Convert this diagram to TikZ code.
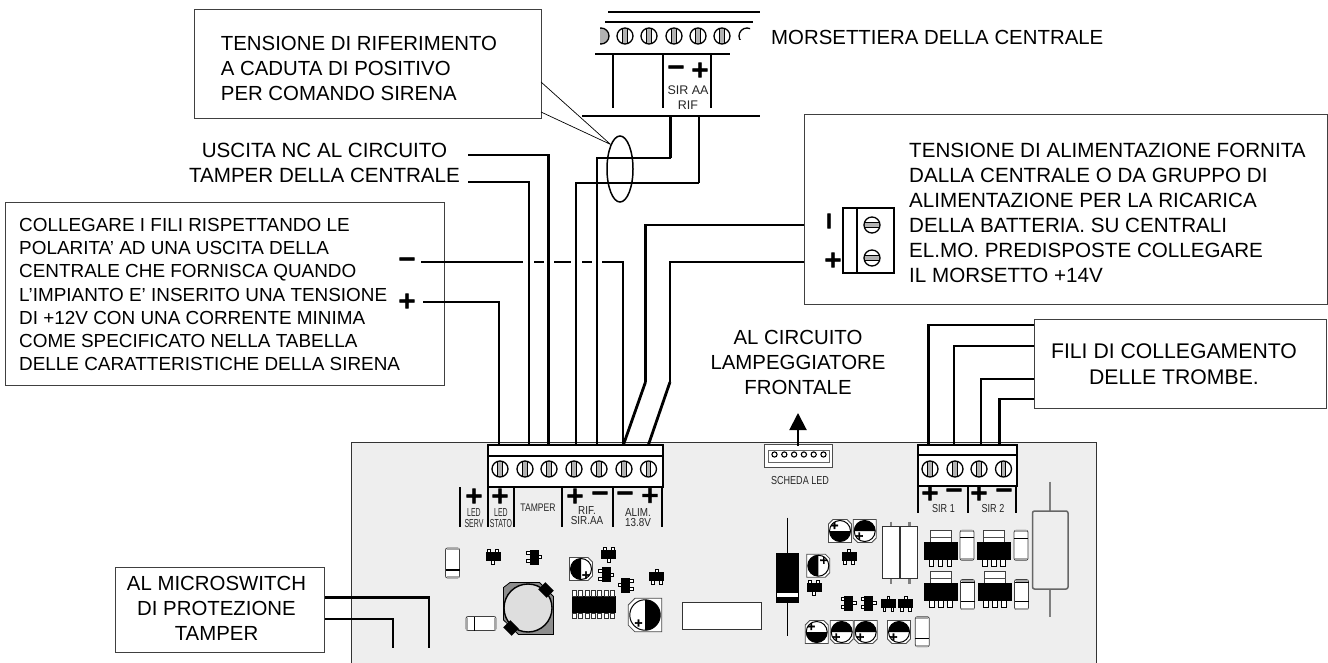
\documentclass[tikz,border=0pt]{standalone}
\usepackage{fontspec}
\setmainfont{Liberation Sans}
\newfontfamily\signfont[FakeBold=3]{DejaVu Sans}
\newfontfamily\narrowfont[FakeStretch=0.78]{Liberation Sans}
\newfontfamily\tightfont[FakeStretch=0.6]{Liberation Sans}
\newfontfamily\slimfont[FakeStretch=0.85]{Liberation Sans}
\usetikzlibrary{arrows.meta,shapes.geometric}

\begin{document}
\begin{tikzpicture}[x=1pt,y=-1pt,node distance=15pt,
	wire line/.style={line width=2.8pt},
	hv/.style={to path={-| (\tikztotarget)}},
	vh/.style={to path={|- (\tikztotarget)}},
	note box/.style={draw=black!75,line width=1pt,fill=white,inner sep=0pt},
	note text/.style={font=\fontsize{20.4}{25}\selectfont,align=left,anchor=west,inner sep=0pt},
	centre text/.style={font=\fontsize{20.4}{25}\selectfont,align=center,inner sep=0pt},
	small text/.style={font=\fontsize{18.9}{23.3}\selectfont,align=left,anchor=west,inner sep=0pt},
	pcb text/.style={font=\narrowfont\fontsize{11.6}{11.6}\selectfont,text=black!85,inner sep=0pt},
	tight text/.style={pcb text,font=\tightfont\fontsize{11.6}{11.6}\selectfont},
	slim text/.style={pcb text,font=\slimfont\fontsize{11.6}{11.6}\selectfont},
	pin sign/.style={font=\signfont\bfseries\fontsize{23}{23}\selectfont,inner sep=0pt},
	cap sign/.style={font=\signfont\bfseries\fontsize{11}{11}\selectfont,inner sep=0pt},
	block/.style={draw,line width=2pt,fill=white},
	mark line/.style={line width=1.6pt},
	pics/screw/.style={code={
		\draw[line width=1.3pt,fill=white] (0,0) circle (8);
		\fill[black!30] (-2,-7) rectangle (2,7);
		\draw[line width=1.1pt] (-2.2,-7.5) -- (-2.2,7.5) (2.2,-7.5) -- (2.2,7.5);
	}},
	pics/elcap/.style n args={3}{code={
		\begin{scope}[rotate=-#1]
			\draw[line width=.8pt,fill=white,draw=black!70] (11.5,-11.5) -- (11.5,11.5) -- (-7,11.5) -- (-11.5,7) -- (-11.5,-7) -- (-7,-11.5) -- cycle;
			\draw[line width=1pt] (0,0) circle (10.5);
			\fill (0,-10.5) arc[start angle=-90,delta angle=180,radius=10.5] -- cycle;
		\end{scope}
		\node[cap sign] (plus) at (#2,#3) {+};
	}},
	pics/sot/.style={code={
		\foreach \l in {-4,4} \draw[fill=white,line width=.6pt] (\l-1.4,-7.5) rectangle (\l+1.4,-3);
		\draw[fill=white,line width=.6pt] (-1.4,3) rectangle (1.4,7.5);
		\fill (-7.5,-4.5) rectangle (7.5,4.5);
	}},
	pics/diode/.style={code={
		\draw[fill=white,rounded corners=2pt,line width=.8pt,draw=black!75] (-7,-15) rectangle (7,15);
		\fill[black!35] (-6,-15) rectangle (6,-13);
		\fill[black!35] (-6,13) rectangle (6,15);
		\foreach \b in {#1} \draw[line width=1.3pt] (-7,\b) -- (7,\b);
	}},
	pics/regulator/.style={code={
		\draw[fill=white,line width=.8pt,draw=black!75] (-10.5,-11.5) rectangle (10.5,0);
		\draw[line width=.6pt,black!70] (-10.5,-5.5) -- (10.5,-5.5);
		\foreach \l in {-9,0,9} \draw[fill=white,line width=.7pt] (\l-2.2,17) rectangle (\l+2.2,24);
		\fill (-17,0) rectangle (17,18);
	}},
	pics/stick/.style={code={
		\draw[line width=2.4pt,black!50] (0,-31) -- (0,31);
		\draw[fill=white,line width=.8pt,draw=black!80] (-8.5,-26) rectangle (8.5,26);
	}}
	]

	\useasboundingbox (0,0) rectangle (1328,663);
	\draw[fill=black!6.5,line width=.9pt,draw=black!80] (351,442) rectangle (1096,668);

	\node[note box,minimum width=439pt,minimum height=183pt] (box fili) at (224.5,294) {};
	\node[small text] (text fili) at (19,294.5) {COLLEGARE I FILI RISPETTANDO LE\\POLARITA' AD UNA USCITA DELLA\\CENTRALE CHE FORNISCA QUANDO\\L'IMPIANTO E' INSERITO UNA TENSIONE\\DI +12V CON UNA CORRENTE MINIMA\\COME SPECIFICATO NELLA TABELLA\\DELLE CARATTERISTICHE DELLA SIRENA};
	\node[pin sign] (fili minus) at (407,262) {−};
	\node[pin sign] (fili plus) at (407,301) {+};

	\coordinate (nc a) at (468,155);
	\coordinate (nc b) at (468,182);
	\coordinate (neg end) at (421,262);
	\coordinate (pos end) at (423,302);
	\coordinate (pin plus) at (499,446);
	\coordinate (pin tamper b) at (529,446);
	\coordinate (pin tamper a) at (548.5,446);
	\coordinate (pin rif plus) at (576,446);
	\coordinate (pin rif minus) at (597,446);
	\coordinate (pin alim minus) at (623,446);
	\coordinate (pin alim plus) at (648,446);
	\coordinate (bus a) at (582,116);
	\coordinate (bus b) at (760,116);
	\coordinate (bus minus) at (670.5,116);
	\coordinate (bus plus) at (699,116);
	\coordinate (corner minus) at (670.5,158);
	\coordinate (corner plus) at (699,183);
	\coordinate (term minus) at (826,225);
	\coordinate (term plus) at (816,262);
	\coordinate (bend minus) at (645.5,382);
	\coordinate (bend plus) at (670,382);
	\coordinate (fili a) at (1034,325);
	\coordinate (fili b) at (1034,346);
	\coordinate (fili c) at (1034,379);
	\coordinate (fili d) at (1034,399);
	\coordinate (pin sir a) at (928.5,446);
	\coordinate (pin sir b) at (954,446);
	\coordinate (pin sir c) at (981,446);
	\coordinate (pin sir d) at (999.5,446);
	\coordinate (micro a) at (324,597.7);
	\coordinate (micro b) at (324,619);
	\coordinate (micro a end) at (429,648);
	\coordinate (micro b end) at (393,648);

	\path[wire line]
	(nc a) edge[hv] (pin tamper a)
	(nc b) edge[hv] (pin tamper b)
	(pos end) edge[hv] (pin plus)
	(pin rif plus) edge[vh] (corner plus)
	(pin rif minus) edge[vh] (corner minus)
	(corner plus) edge (bus plus)
	(corner minus) edge (bus minus)
	(bus a) edge (bus b)
	(term minus) edge[hv] (bend minus)
	(term plus) edge[hv] (bend plus)
	(bend minus) edge (pin alim minus)
	(bend plus) edge (pin alim plus)
	(pin sir a) edge[vh] (fili a)
	(pin sir b) edge[vh] (fili b)
	(pin sir c) edge[vh] (fili c)
	(pin sir d) edge[vh] (fili d)
	(micro a) edge[hv] (micro a end)
	(micro b) edge[hv] (micro b end);
	\draw[wire line,dash pattern=on 102pt off 11pt on 10pt off 10pt on 17pt off 11pt on 10pt off 10pt on 400pt] (neg end) -| (pin alim minus);

	\node[note box,minimum width=347pt,minimum height=109pt] (box sirena) at (367.5,64.5) {};
	\node[note text] (text sirena) at (220.7,68) {TENSIONE DI RIFERIMENTO\\A CADUTA DI POSITIVO\\PER COMANDO SIRENA};
	\node[note box,minimum width=523pt,minimum height=189pt] (box alim) at (1065.5,209.5) {};
	\node[note text,font=\fontsize{20.6}{25}\selectfont] (text alim) at (909,212.5) {TENSIONE DI ALIMENTAZIONE FORNITA\\DALLA CENTRALE O DA GRUPPO DI\\ALIMENTAZIONE PER LA RICARICA\\DELLA BATTERIA. SU CENTRALI\\EL.MO. PREDISPOSTE COLLEGARE\\IL MORSETTO +14V};
	\node[note box,minimum width=292pt,minimum height=89pt] (box trombe) at (1180,363.5) {};
	\node[centre text,font=\fontsize{21.2}{26}\selectfont] (text trombe) at (1174,364) {FILI DI COLLEGAMENTO\\DELLE TROMBE.};
	\node[note box,minimum width=209pt,minimum height=85pt] (box micro) at (219.5,609.5) {};
	\node[centre text] (text micro) at (216.5,608) {AL MICROSWITCH\\DI PROTEZIONE\\TAMPER};

	\node[centre text,font=\fontsize{20.6}{25}\selectfont] (uscita) at (324.5,163) {USCITA NC AL CIRCUITO\\TAMPER DELLA CENTRALE};
	\node[note text] (morsettiera) at (771,37) {MORSETTIERA DELLA CENTRALE};
	\node[centre text] (lampeggiatore) at (798,362) {AL CIRCUITO\\LAMPEGGIATORE\\FRONTALE};

	\node[draw,ellipse,line width=1.5pt,minimum width=26pt,minimum height=66pt,inner sep=0pt] (ring) at (620,169) {};
	\coordinate (call a) at (541,82);
	\coordinate (call b) at (541,112);
	\draw[line width=.7pt] (call a) -- (ring.111) (call b) -- (ring.111);

	\draw[line width=1.5pt] (608,12) -- (760,12);
	\draw[line width=2pt] (605,22) -- (753,22);
	\draw[line width=1.3pt] (595,54) -- (730,54);
	\foreach \x in {625,649,674,698,722} \pic at (\x,36) {screw};
	\begin{scope}
		\clip (600,26) rectangle (612,46);
		\draw[line width=1.3pt,fill=black!30] (601,36) circle (8);
	\end{scope}
	\begin{scope}
		\clip (736,26) rectangle (750,40);
		\draw[line width=1.3pt] (747,36) circle (8);
	\end{scope}
	\draw[mark line] (613,54) -- (613,108) (663,54) -- (663,108) (711,54) -- (711,108);
	\node[pin sign] (top minus) at (676,70) {−};
	\node[pin sign] (top plus) at (700,70) {+};
	\node[pcb text,font=\fontsize{12.5}{12.5}\selectfont] (sir aa) at (688,90) {SIR AA};
	\node[pcb text,font=\fontsize{12.5}{12.5}\selectfont] (rif) [below of=sir aa] {RIF};

	\draw[block,line width=1.6pt] (843,208) rectangle (894,273);
	\draw[line width=1.6pt] (857,208) -- (857,273);
	\pic[rotate=90] at (872,225) {screw};
	\pic[rotate=90] at (872,258) {screw};
	\node[pin sign,rotate=90] (term i) at (832,221) {−};
	\node[pin sign] (term p) at (833,260) {+};

	\draw[block] (488,445) rectangle (663,487);
	\draw[line width=2pt] (488,456) -- (663,456);
	\foreach \x in {500,525,549,574,599,624,648.5} \pic at (\x,469) {screw};
	\draw[mark line] (460,487) -- (460,527) (488,487) -- (488,527) (514,487) -- (514,527) (562,487) -- (562,527) (613,487) -- (613,527) (662,487) -- (662,527);
	\node[pin sign] (led serv plus) at (474,496) {+};
	\node[pin sign] (led stato plus) at (500,496) {+};
	\node[pin sign] (rif plus) at (575,496) {+};
	\node[pin sign] (rif minus) at (600,496) {−};
	\node[pin sign] (alim minus) at (625,496) {−};
	\node[pin sign] (alim plus) at (650,495.5) {+};
	\node[tight text] (led serv) at (474,513) {LED};
	\node[tight text] (serv) at (474,524) {SERV};
	\node[tight text] (led stato) at (501,513) {LED};
	\node[tight text] (stato) at (501,524) {STATO};
	\node[pcb text,font=\narrowfont\fontsize{11}{11}\selectfont] (tamper) at (538,508) {TAMPER};
	\node[slim text] (rif label) at (587,511) {RIF.};
	\node[slim text] (sir label) at (587,521) {SIR.AA};
	\node[slim text] (alim label) at (638,512.5) {ALIM.};
	\node[slim text] (volt label) at (638,522.5) {13.8V};

	\draw[block] (918,445) rectangle (1016.5,486);
	\draw[line width=2pt] (918,455) -- (1016.5,455);
	\foreach \x in {930,955,979,1003.5} \pic at (\x,469) {screw};
	\draw[mark line] (918,486) -- (918,513) (968,486) -- (968,513) (1016,486) -- (1016,513);
	\node[pin sign] (sir a plus) at (930,493) {+};
	\node[pin sign] (sir a minus) at (954,493) {−};
	\node[pin sign] (sir b plus) at (979,493) {+};
	\node[pin sign] (sir b minus) at (1004,493) {−};
	\node[pcb text] (sir one) at (943.5,509) {SIR 1};
	\node[pcb text] (sir two) at (993,509) {SIR 2};

	\draw[fill=white,line width=.8pt,draw=black!70] (764,444) rectangle (832.5,467.5);
	\draw[line width=.6pt,draw=black!60] (768,450) -- (829,450) -- (829,462) -- (768,462) -- cycle;
	\foreach \x in {774.5,784.3,794.1,803.9,813.7,823.5} \draw[line width=1.1pt] (\x,454.5) circle (2.6);
	\node[pcb text] (scheda) at (800,481) {SCHEDA LED};
	\coordinate (led out) at (798,446);
	\coordinate (led tip) at (798,413);
	\draw[line width=2pt,-{Triangle[width=17pt,length=17pt]}] (led out) -- (led tip);

	\pic at (452.5,563) {diode={7}};
	\pic[rotate=90] at (481,623.5) {diode={-6.5}};
	\pic at (493,556.5) {sot};
	\pic[rotate=90] at (534,557) {sot};
	\pic at (608.5,554.5) {sot};
	\pic[rotate=90] at (606,574.5) {sot};
	\pic[rotate=-90] at (625.5,585) {sot};
	\pic[rotate=180] at (656.5,576.5) {sot};
	\pic at (581,569) {elcap={180}{5}{6}};
	\pic[scale=1.45] at (645,615) {elcap={0}{-4.5}{5.5}};

	\draw[fill=black!45,line width=.8pt] (503.5,587.5) -- (510,582.5) -- (539.5,582.5) -- (553.5,596.5) -- (553.5,634.5) -- (518.5,634.5) -- (503.5,620) -- cycle;
	\draw[fill=black!13,line width=1.4pt] (528,608) circle (24);
	\fill[rotate around={45:(546,590)}] (541,584) rectangle (551,596);
	\fill[rotate around={45:(511,628)}] (506,622) rectangle (516,634);

	\fill (572,596) rectangle (616,613);
	\foreach \x in {574,580.4,586.8,593.2,599.6,606,612.4}
	\draw[line width=.5pt,draw=black!80,fill=white] (\x-2,590.5) rectangle (\x+2,596) (\x-2,613) rectangle (\x+2,618.5);

	\draw[fill=white,line width=.8pt,draw=black!80] (682.5,602) rectangle (761.7,629);

	\draw[line width=.9pt] (787.3,517.7) -- (787.3,635.7);
	\fill (775.7,553) rectangle (799,603);
	\fill[white] (776.5,592.5) rectangle (798,597);

	\pic at (840,531) {elcap={90}{-5.5}{-5.5}};
	\pic at (864.7,531) {elcap={270}{-5.5}{5}};
	\pic at (818.3,565.7) {elcap={180}{5.5}{-5.5}};
	\pic at (816.7,632) {elcap={90}{-5.5}{-5.5}};
	\pic at (841.7,632) {elcap={270}{-5.5}{5}};
	\pic at (865.7,632) {elcap={270}{-5.5}{5}};
	\pic at (899,632) {elcap={270}{-5.5}{5}};
	\pic[rotate=180] at (849,556.5) {sot};
	\pic at (814,587.5) {sot};
	\pic[rotate=90] at (848.8,603) {sot};
	\pic[rotate=90] at (868.7,603) {sot};
	\pic[rotate=180] at (888.3,603.7) {sot};
	\pic[rotate=180] at (905.5,603.7) {sot};
	\pic at (922.3,631.7) {diode={6.5}};

	\pic at (890.8,552.7) {stick};
	\pic at (909.3,552.7) {stick};

	\pic at (940.5,542.3) {regulator};
	\pic at (994,542.3) {regulator};
	\pic at (941,583.3) {regulator};
	\pic at (995,583.3) {regulator};
	\pic at (967,545.3) {diode={-8}};
	\pic at (1021,545.3) {diode={-7}};
	\pic at (967.5,594.5) {diode={-12,7}};
	\pic at (1021.5,594.5) {diode={-12,7}};

	\draw[line width=2.4pt,black!50] (1050,481.7) -- (1050,617.3);
	\draw[fill=black!6.5,line width=1.5pt,draw=black!60,rounded corners=2pt] (1032.5,511) rectangle (1068,589);
\end{tikzpicture}
\end{document}
